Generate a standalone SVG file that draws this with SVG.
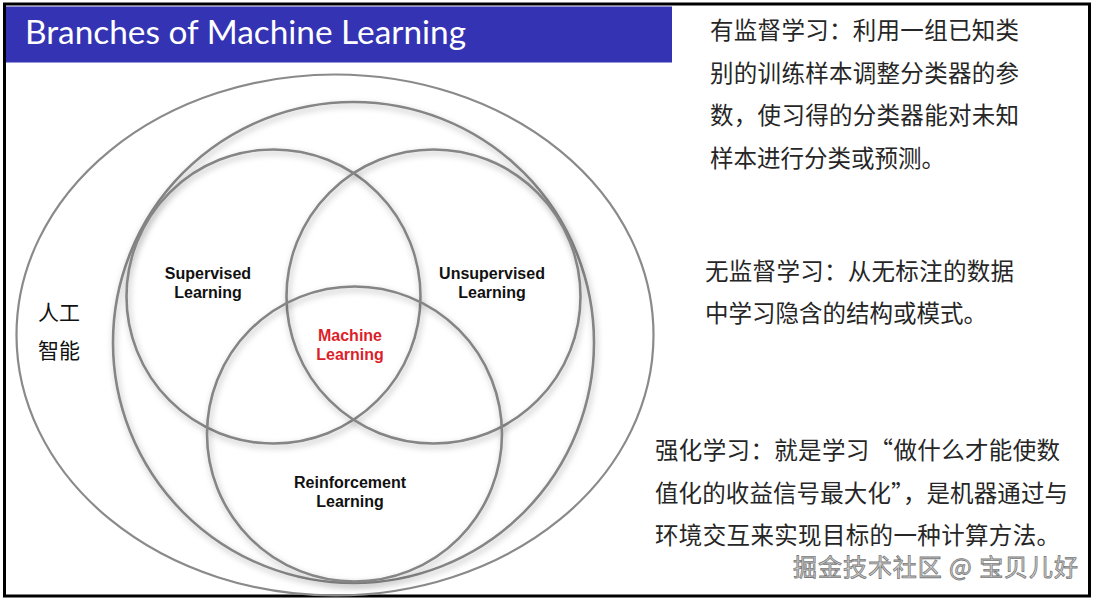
<svg xmlns="http://www.w3.org/2000/svg" width="1096" height="600" viewBox="0 0 1096 600">
<defs>
<filter id="sh" x="-10%" y="-10%" width="120%" height="120%">
<feDropShadow dx="1.5" dy="3" stdDeviation="3" flood-color="#000" flood-opacity="0.3"/>
</filter>
<style>
.ring{fill:none;stroke:#858585;stroke-width:2.6}
.outer{fill:none;stroke:#8a8a8a;stroke-width:2.2}
.lbl{font-family:"Liberation Sans",Arial,sans-serif;font-weight:bold;font-size:16px;fill:#111;text-anchor:middle}
.ml{fill:#dc1f2a}
.cn{font-family:"Noto Sans CJK SC","Noto Sans",sans-serif;font-size:23.5px;fill:#262626}
.ai{font-family:"Noto Sans CJK SC","Noto Sans",sans-serif;font-size:21px;fill:#111}
.wm{font-family:"Noto Sans CJK SC","Noto Sans",sans-serif;font-size:24px;fill:#d4d4d4;stroke:#7a7a7a;stroke-width:0.8}
</style>
</defs>
<rect width="1096" height="600" fill="#fff"/>
<g id="frame">
<rect x="4.5" y="4" width="1085" height="592" fill="none" stroke="#000" stroke-width="3"/>
</g>
<g id="title">
<rect x="6" y="6.5" width="666" height="56" fill="#3333b3"/>
<text x="25" y="44" font-family="Lato,'Open Sans',sans-serif" font-size="32" fill="#fff" textLength="441" lengthAdjust="spacingAndGlyphs">Branches of Machine Learning</text>
</g>
<g id="connectors"/>
<g id="ai">
<ellipse class="outer" cx="335" cy="335" rx="318.5" ry="260.5"/>
<text class="ai" x="38" y="320">人工</text>
<text class="ai" x="38" y="358">智能</text>
</g>
<g id="ml-field">
<circle class="ring" filter="url(#sh)" cx="353.5" cy="342.5" r="240.5"/>
</g>
<g id="supervised">
<circle class="ring" filter="url(#sh)" cx="273.5" cy="296.5" r="147"/>
<text class="lbl" x="208" y="279">Supervised</text>
<text class="lbl" x="208" y="298">Learning</text>
</g>
<g id="unsupervised">
<circle class="ring" filter="url(#sh)" cx="433.5" cy="296.5" r="147"/>
<text class="lbl" x="492" y="279">Unsupervised</text>
<text class="lbl" x="492" y="298">Learning</text>
</g>
<g id="reinforcement">
<circle class="ring" filter="url(#sh)" cx="354.5" cy="434" r="147.5"/>
<text class="lbl" x="350" y="488">Reinforcement</text>
<text class="lbl" x="350" y="507">Learning</text>
</g>
<g id="machine-learning">
<text class="lbl ml" x="350" y="341">Machine</text>
<text class="lbl ml" x="350" y="360">Learning</text>
</g>
<g id="supervised-note">
<text class="cn" x="710" y="39" textLength="309">有监督学习：利用一组已知类</text>
<text class="cn" x="710" y="82" textLength="309">别的训练样本调整分类器的参</text>
<text class="cn" x="710" y="124" textLength="309">数，使习得的分类器能对未知</text>
<text class="cn" x="710" y="167">样本进行分类或预测。</text>
</g>
<g id="unsupervised-note">
<text class="cn" x="705" y="280" textLength="309">无监督学习：从无标注的数据</text>
<text class="cn" x="705" y="322">中学习隐含的结构或模式。</text>
</g>
<g id="reinforcement-note">
<text class="cn" x="655" y="459" textLength="405">强化学习：就是学习“做什么才能使数</text>
<text class="cn" x="655" y="502" textLength="413">值化的收益信号最大化”，是机器通过与</text>
<text class="cn" x="655" y="544" textLength="405">环境交互来实现目标的一种计算方法。</text>
</g>
<g id="watermark">
<text class="wm" x="793" y="576" textLength="285">掘金技术社区 @ 宝贝儿好</text>
</g>
</svg>
